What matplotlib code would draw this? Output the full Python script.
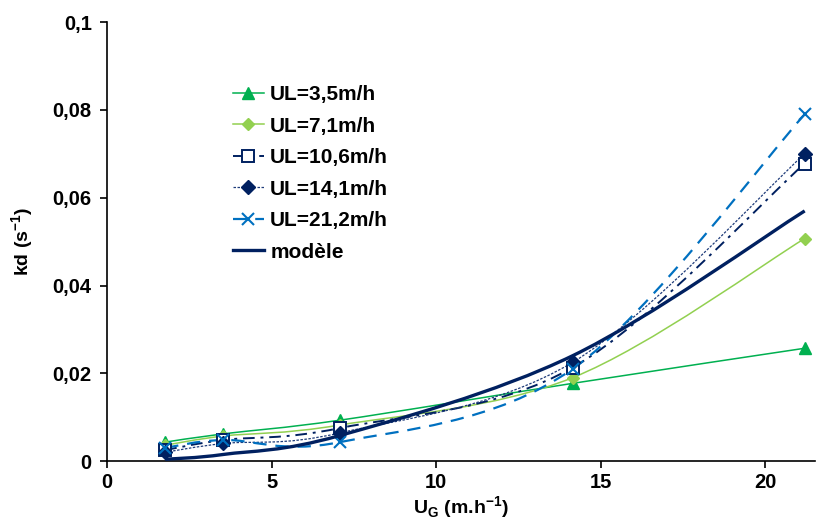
import numpy as np
import matplotlib.pyplot as plt
from matplotlib.path import Path
from matplotlib.patches import PathPatch
from matplotlib.lines import Line2D
from matplotlib.ticker import FuncFormatter

plt.rcParams['font.family'] = ['Liberation Sans', 'DejaVu Sans']
plt.rcParams['font.weight'] = 'bold'
plt.rcParams['mathtext.fontset'] = 'custom'
plt.rcParams['mathtext.bf'] = 'Liberation Sans:bold'
plt.rcParams['mathtext.rm'] = 'Liberation Sans:bold'

# gas velocity U_G (m/h)
ug = [1.77, 3.54, 7.07, 14.15, 21.2]

# kd (s-1) for each liquid velocity
kd_35 = [0.0043, 0.0062, 0.0093, 0.0177, 0.0257]
kd_71 = [0.0036, 0.0057, 0.0082, 0.0190, 0.0507]
kd_106 = [0.0025, 0.0048, 0.0075, 0.0213, 0.0678]
kd_141 = [0.0020, 0.0040, 0.0064, 0.0225, 0.0700]
kd_212 = [0.0030, 0.0048, 0.0043, 0.0210, 0.0790]
kd_model = [0.0004, 0.0015, 0.0058, 0.0240, 0.0570]

series = [
    ('UL=3,5m/h', kd_35, dict(color='#00B050', lw=1.1, ls='-'),
     dict(marker='^', ms=9, mfc='#00B050', mec='#00B050')),
    ('UL=7,1m/h', kd_71, dict(color='#92D050', lw=1.1, ls='-'),
     dict(marker='D', ms=6.5, mfc='#92D050', mec='#92D050')),
    ('UL=10,6m/h', kd_106, dict(color='#002060', lw=1.4, ls=(0, (6, 3, 1.5, 3))),
     dict(marker='s', ms=8, mfc='white', mec='#002060', mew=1.4)),
    ('UL=14,1m/h', kd_141, dict(color='#1F3C7A', lw=0.9, ls=(0, (2, 1.2))),
     dict(marker='D', ms=7, mfc='#002060', mec='#002060')),
    ('UL=21,2m/h', kd_212, dict(color='#0070C0', lw=1.6, ls=(0, (6, 4))),
     dict(marker='x', ms=9, mfc='#0070C0', mec='#0070C0', mew=1.5)),
]


def smooth_path(x, y):
    # Excel-like smoothed line as cubic Bezier segments (Catmull-Rom)
    pts = np.column_stack([x, y])
    verts = [pts[0]]
    codes = [Path.MOVETO]
    n = len(pts)
    for i in range(n - 1):
        p0 = pts[max(i - 1, 0)]
        p1 = pts[i]
        p2 = pts[i + 1]
        p3 = pts[min(i + 2, n - 1)]
        c1 = p1 + (p2 - p0) / 6.0
        c2 = p2 - (p3 - p1) / 6.0
        verts += [c1, c2, p2]
        codes += [Path.CURVE4] * 3
    return Path(verts, codes)


fig = plt.figure(figsize=(8.19, 5.29), dpi=100)
ax = fig.add_axes([0.1306, 0.1285, 0.864, 0.8295])

handles = []
for label, vals, lstyle, mstyle in series:
    ax.add_patch(PathPatch(smooth_path(ug, vals), fill=False, edgecolor=lstyle['color'],
                           lw=lstyle['lw'], linestyle=lstyle['ls'], zorder=2))
    ax.plot(ug, vals, ls='none', zorder=3, **mstyle)
    handles.append(Line2D([], [], color=lstyle['color'], lw=lstyle['lw'],
                          linestyle=lstyle['ls'], label=label, **mstyle))

ax.add_patch(PathPatch(smooth_path(ug, kd_model), fill=False, edgecolor='#002060',
                       lw=2.4, zorder=4))
handles.append(Line2D([], [], color='#002060', lw=2.4, label='modèle'))

ax.set_xlim(0, 21.5)
ax.set_ylim(0, 0.1)
ax.set_xticks([0, 5, 10, 15, 20])
ax.set_yticks([0, 0.02, 0.04, 0.06, 0.08, 0.1])
ax.yaxis.set_major_formatter(FuncFormatter(
    lambda v, p: '0' if v == 0 else ('%g' % round(v, 3)).replace('.', ',')))

for s in ['top', 'right']:
    ax.spines[s].set_visible(False)
for s in ['left', 'bottom']:
    ax.spines[s].set_linewidth(1.2)
ax.tick_params(axis='both', labelsize=14.5, width=1.2, length=5, direction='out')
ax.tick_params(axis='y', pad=6)
for lab in ax.get_xticklabels() + ax.get_yticklabels():
    lab.set_fontweight('bold')

ax.set_xlabel('U$_\\mathbf{G}$ (m.h$^{\\mathbf{-1}}$)', fontsize=14, fontweight='bold', labelpad=2)
ax.set_ylabel('kd (s$^{\\mathbf{-1}}$)', fontsize=14, fontweight='bold', labelpad=12)

ax.legend(handles=handles, loc='upper left', bbox_to_anchor=(0.163, 0.88), frameon=False,
          borderpad=0, labelspacing=0.6, handlelength=1.5, handletextpad=0.3,
          prop={'size': 15, 'weight': 'bold'})

fig.savefig('out.png', dpi=100)
